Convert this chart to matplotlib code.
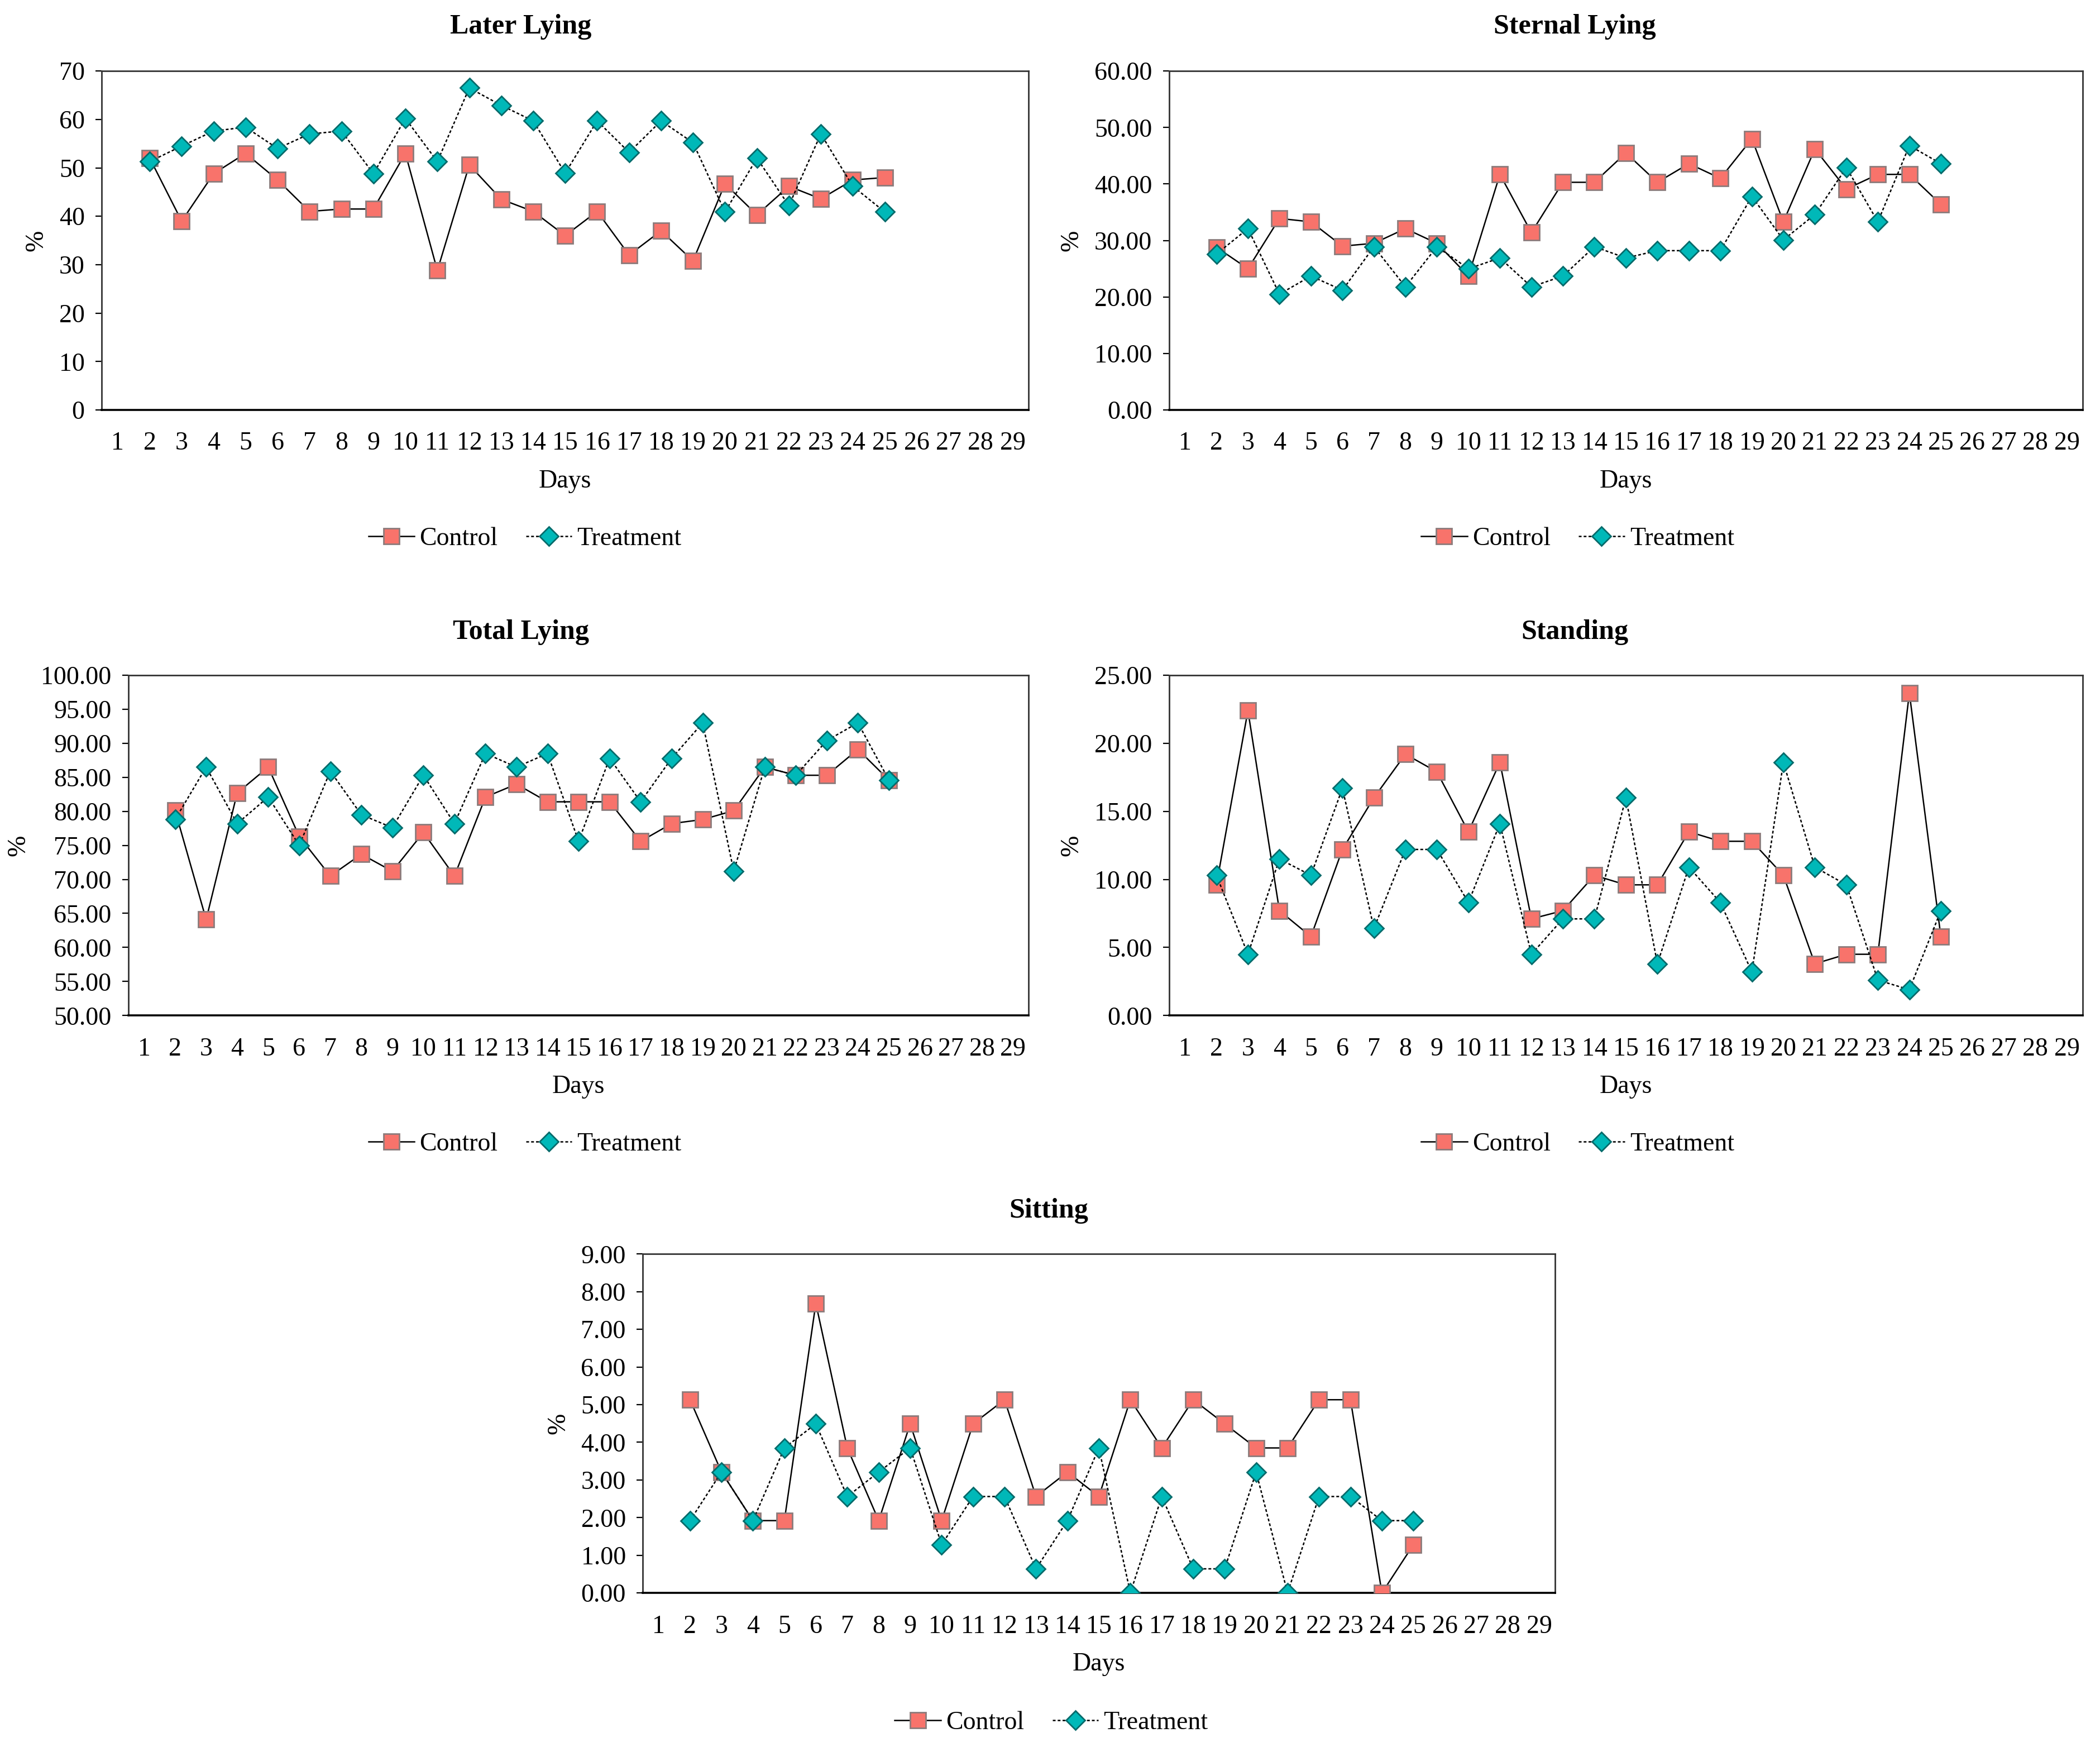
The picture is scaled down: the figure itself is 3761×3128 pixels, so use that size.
import matplotlib
matplotlib.use("Agg")
import matplotlib.pyplot as plt
from matplotlib.lines import Line2D

plt.rcParams['font.family'] = ['Liberation Serif', 'DejaVu Serif']

days_all = list(range(1, 30))
days = list(range(2, 26))

later_control = [52.0, 39.0, 48.8, 53.0, 47.5, 41.0, 41.5, 41.5, 53.0, 28.8, 50.6, 43.5,
                 41.0, 36.0, 41.0, 32.0, 37.0, 30.8, 46.7, 40.3, 46.2, 43.6, 47.5, 48.0]
later_treat = [51.3, 54.5, 57.6, 58.4, 54.0, 57.0, 57.6, 48.8, 60.2, 51.3, 66.5, 62.9,
               59.7, 48.9, 59.7, 53.2, 59.7, 55.2, 40.9, 52.0, 42.2, 57.0, 46.2, 40.9]

sternal_control = [28.8, 25.0, 33.9, 33.3, 29.0, 29.5, 32.1, 29.5, 23.7, 41.7, 31.4, 40.3,
                   40.3, 45.5, 40.3, 43.6, 41.0, 48.0, 33.3, 46.2, 39.1, 41.7, 41.7, 36.4]
sternal_treat = [27.6, 32.1, 20.5, 23.7, 21.2, 28.9, 21.8, 28.9, 25.0, 26.9, 21.8, 23.7,
                 28.9, 26.9, 28.2, 28.2, 28.2, 37.8, 30.1, 34.6, 42.9, 33.3, 46.8, 43.6]

total_control = [80.1, 64.1, 82.7, 86.5, 76.3, 70.5, 73.7, 71.2, 76.9, 70.5, 82.1, 84.0,
                 81.4, 81.4, 81.4, 75.6, 78.2, 78.8, 80.1, 86.5, 85.3, 85.3, 89.1, 84.6]
total_treat = [78.8, 86.5, 78.2, 82.1, 75.0, 85.9, 79.5, 77.6, 85.3, 78.2, 88.5, 86.5,
               88.5, 75.6, 87.8, 81.4, 87.8, 93.0, 71.2, 86.5, 85.3, 90.4, 93.0, 84.6]

standing_control = [9.6, 22.4, 7.7, 5.8, 12.2, 16.0, 19.2, 17.9, 13.5, 18.6, 7.1, 7.7,
                    10.3, 9.6, 9.6, 13.5, 12.8, 12.8, 10.3, 3.8, 4.5, 4.5, 23.7, 5.8]
standing_treat = [10.3, 4.5, 11.5, 10.3, 16.7, 6.4, 12.2, 12.2, 8.3, 14.1, 4.5, 7.1,
                  7.1, 16.0, 3.8, 10.9, 8.3, 3.2, 18.6, 10.9, 9.6, 2.6, 1.9, 7.7]

sitting_control = [5.13, 3.21, 1.92, 1.92, 7.69, 3.85, 1.92, 4.49, 1.92, 4.49, 5.13, 2.56,
                   3.21, 2.56, 5.13, 3.85, 5.13, 4.49, 3.85, 3.85, 5.13, 5.13, 0.00, 1.28]
sitting_treat = [1.92, 3.21, 1.92, 3.85, 4.49, 2.56, 3.21, 3.85, 1.28, 2.56, 2.56, 0.64,
                 1.92, 3.85, 0.00, 2.56, 0.64, 0.64, 3.21, 0.00, 2.56, 2.56, 1.92, 1.92]

panels = [
    dict(title="Later Lying", c=later_control, t=later_treat, ylim=(0, 70), step=10, fmt="{:.0f}"),
    dict(title="Sternal Lying", c=sternal_control, t=sternal_treat, ylim=(0, 60), step=10, fmt="{:.2f}"),
    dict(title="Total Lying", c=total_control, t=total_treat, ylim=(50, 100), step=5, fmt="{:.2f}"),
    dict(title="Standing", c=standing_control, t=standing_treat, ylim=(0, 25), step=5, fmt="{:.2f}"),
    dict(title="Sitting", c=sitting_control, t=sitting_treat, ylim=(0, 9), step=1, fmt="{:.2f}"),
]

W, H = 1568.0, 1304.0
# axes boxes in reference display pixels: left, right, top, bottom
boxes = [(76, 768, 53, 306), (873, 1555, 53, 306),
         (96, 768, 504, 758), (873, 1555, 504, 758),
         (480, 1161, 936, 1189)]
title_pos = [(389, 20), (1176, 20), (389, 472), (1176, 472), (783, 904)]
legend_pos = [(392, 402), (1178, 402), (392, 854), (1178, 854), (785, 1286)]

CTRL_FACE = '#F8736B'
CTRL_EDGE = '#8C7B7B'
TRT_FACE = '#00B8B8'
TRT_EDGE = '#066A6A'
FS = 16.5

fig = plt.figure(figsize=(3761 / 200, 3128 / 200), dpi=200)

for p, box, tp, lp in zip(panels, boxes, title_pos, legend_pos):
    l, r, t, b = box
    ax = fig.add_axes([l / W, 1 - b / H, (r - l) / W, (b - t) / H])
    ax.plot(days, p['c'], color='black', lw=0.9, marker='s', ms=10,
            mfc=CTRL_FACE, mec=CTRL_EDGE, mew=1.0, zorder=3)
    ax.plot(days, p['t'], color='black', lw=0.9, ls=(0, (2, 1.5)), marker='D', ms=8.5,
            mfc=TRT_FACE, mec=TRT_EDGE, mew=1.0, zorder=4)
    ax.set_xlim(0.5, 29.5)
    ax.set_ylim(*p['ylim'])
    lo, hi = p['ylim']
    yt = []
    v = lo
    while v <= hi + 1e-9:
        yt.append(v)
        v += p['step']
    ax.set_yticks(yt)
    ax.set_yticklabels([p['fmt'].format(x) for x in yt], fontsize=FS)
    ax.set_xticks(days_all)
    ax.set_xticklabels([str(d) for d in days_all], fontsize=FS)
    ax.tick_params(axis='x', length=0, pad=14)
    ax.tick_params(axis='y', length=4, width=0.8, pad=7, direction='out')
    for s in ax.spines.values():
        s.set_linewidth(1.0)
        s.set_color('#333333')
    ax.spines['bottom'].set_color('black')
    ax.spines['bottom'].set_linewidth(1.3)
    ax.set_xlabel("Days", fontsize=FS, labelpad=9)
    ax.set_ylabel("%", fontsize=FS, labelpad=7)
    fig.text(tp[0] / W, 1 - tp[1] / H, p['title'], ha='center', va='center',
             fontsize=18, fontweight='bold')
    handles = [
        Line2D([], [], color='black', lw=0.9, marker='s', ms=10, mfc=CTRL_FACE,
               mec=CTRL_EDGE, mew=1.0),
        Line2D([], [], color='black', lw=0.9, ls=(0, (2, 1.5)), marker='D', ms=8.5,
               mfc=TRT_FACE, mec=TRT_EDGE, mew=1.0),
    ]
    fig.legend(handles, ["Control", "Treatment"], loc='center',
               bbox_to_anchor=(lp[0] / W, 1 - lp[1] / H), ncol=2, frameon=False,
               fontsize=FS, handlelength=1.8, handletextpad=0.2, columnspacing=1.1,
               borderaxespad=0, borderpad=0)

fig.savefig("out.png", dpi=200)
